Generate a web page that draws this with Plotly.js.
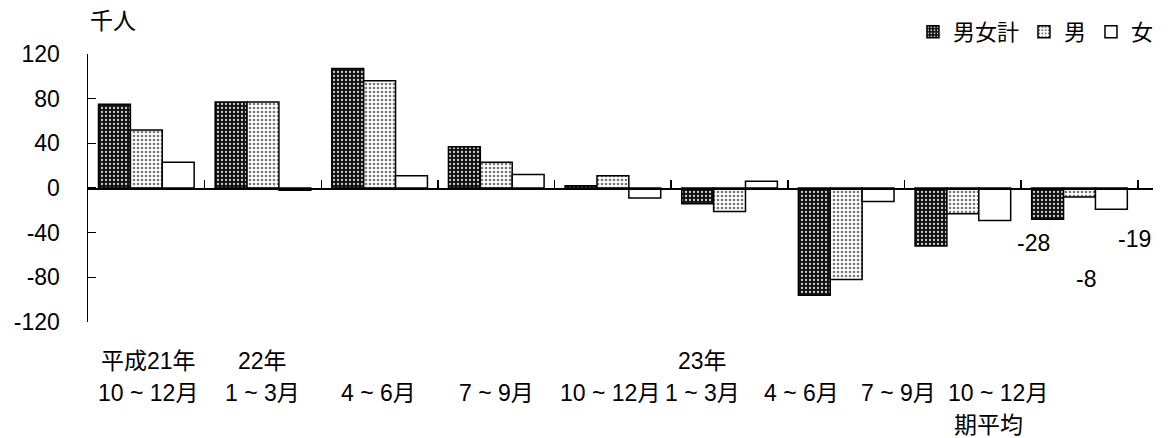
<!DOCTYPE html>
<html>
<head>
<meta charset="utf-8">
<script src="https://cdn.plot.ly/plotly-3.0.1.min.js"></script>
<style>html,body{margin:0;padding:0;background:#fff;}#chart{width:1176px;height:438px;}</style>
</head>
<body>
<div id="chart"></div>
<script>
// ---- data ----
const categories = ['平成21年10～12月','平成22年1～3月','平成22年4～6月','平成22年7～9月','平成22年10～12月','平成23年1～3月','平成23年4～6月','平成23年7～9月','平成23年10～12月期平均'];
const yearLabels = ['平成21年','22年','','','','23年','','',''];
const quarterLabels = ['10 ~ 12月','1 ~ 3月','4 ~ 6月','7 ~ 9月','10 ~ 12月','1 ~ 3月','4 ~ 6月','7 ~ 9月','10 ~ 12月'];
const noteLabels = ['','','','','','','','','期平均'];
const seriesNames = ['男女計','男','女'];
const total  = [75, 77, 107, 37, 2, -14, -96, -52, -28];
const male   = [52, 77, 96, 23, 11, -21, -82, -23, -8];
const female = [23, -2, 11, 12, -9, 6, -12, -29, -19];
const yTickVals = [120, 80, 40, 0, -40, -80, -120];
const yTickText = ['120','80','40','0','-40','-80','-120'];
const lastIndex = categories.length - 1;
const dataLabels = [total[lastIndex], male[lastIndex], female[lastIndex]];

// ---- style ----
const FONT = 'Arial, "Liberation Sans", "Noto Sans CJK JP", sans-serif';
const FS = 23;
const labelShift = [2, 0, -1, 0, -3, -27, -45, -64, -82];
const noteShift = -91;
const dataLabelShift = [[-46, -24], [6, -82], [55, -30]];

const traces = [
  {type:'bar', name: seriesNames[0], x: categories, y: total,
   marker:{color:'#111', line:{color:'#000', width:1.5},
     pattern:{shape:'.', bgcolor:'#111', fgcolor:'#d0d0d0', size:4, solidity:0.25, fillmode:'replace'}}},
  {type:'bar', name: seriesNames[1], x: categories, y: male,
   marker:{color:'#fff', line:{color:'#000', width:1.5},
     pattern:{shape:'.', bgcolor:'#fff', fgcolor:'#777', size:4, solidity:0.35, fillmode:'replace'}}},
  {type:'bar', name: seriesNames[2], x: categories, y: female,
   marker:{color:'#fff', line:{color:'#000', width:1.5}}}
];

const annotations = [];
categories.forEach((c, i) => {
  if (yearLabels[i]) annotations.push({xref:'x', yref:'paper', x:i, y:0, yshift:-39, xshift:labelShift[i], text:yearLabels[i], showarrow:false, yanchor:'middle', xanchor:'center', font:{size:FS, color:'#000', family:FONT}});
  annotations.push({xref:'x', yref:'paper', x:i, y:0, yshift:-71, xshift:labelShift[i], text:quarterLabels[i], showarrow:false, yanchor:'middle', xanchor:'center', font:{size:FS, color:'#000', family:FONT}});
  if (noteLabels[i]) annotations.push({xref:'x', yref:'paper', x:i, y:0, yshift:-103, xshift:noteShift, text:noteLabels[i], showarrow:false, yanchor:'middle', xanchor:'center', font:{size:FS, color:'#000', family:FONT}});
});
dataLabels.forEach((v, k) => {
  annotations.push({xref:'x', yref:'y', x:lastIndex, y:v, xshift:dataLabelShift[k][0], yshift:dataLabelShift[k][1], text:String(v), showarrow:false, yanchor:'middle', xanchor:'center', font:{size:FS, color:'#000', family:FONT}});
});
annotations.push({xref:'paper', yref:'paper', x:0, y:1, xshift:25, yshift:33, text:'千人', showarrow:false, xanchor:'center', yanchor:'middle', font:{size:FS, color:'#000', family:FONT}});

const layout = {
  width:1176, height:438,
  margin:{l:88, r:23, t:54, b:116, autoexpand:false},
  paper_bgcolor:'#fff', plot_bgcolor:'#fff',
  font:{family:FONT, size:FS, color:'#000'},
  barmode:'group', bargap:0.18, bargroupgap:0,
  showlegend:true,
  legend:{orientation:'h', x:0.7746, xanchor:'left', y:1.082, yanchor:'middle', font:{size:22, family:FONT, color:'#000'}, bgcolor:'rgba(0,0,0,0)', itemwidth:30, traceorder:'normal'},
  xaxis:{type:'category', anchor:'free', position:0.5, showline:true, linecolor:'#000', linewidth:1.5,
    ticks:'inside', tickson:'boundaries', ticklen:8, tickwidth:1.5, tickcolor:'#000', showticklabels:false, showgrid:false, zeroline:false, fixedrange:true},
  yaxis:{range:[-120,120], tickvals:yTickVals, ticktext:yTickText, showline:true, linecolor:'#000', linewidth:1.5,
    ticks:'inside', ticklen:8, tickwidth:1.5, tickcolor:'#000', showgrid:false, zeroline:false, ticklabelstandoff:22,
    tickfont:{size:FS, family:FONT, color:'#000'}},
  annotations: annotations
};

Plotly.newPlot('chart', traces, layout, {staticPlot:true, displayModeBar:false});
</script>
</body>
</html>
